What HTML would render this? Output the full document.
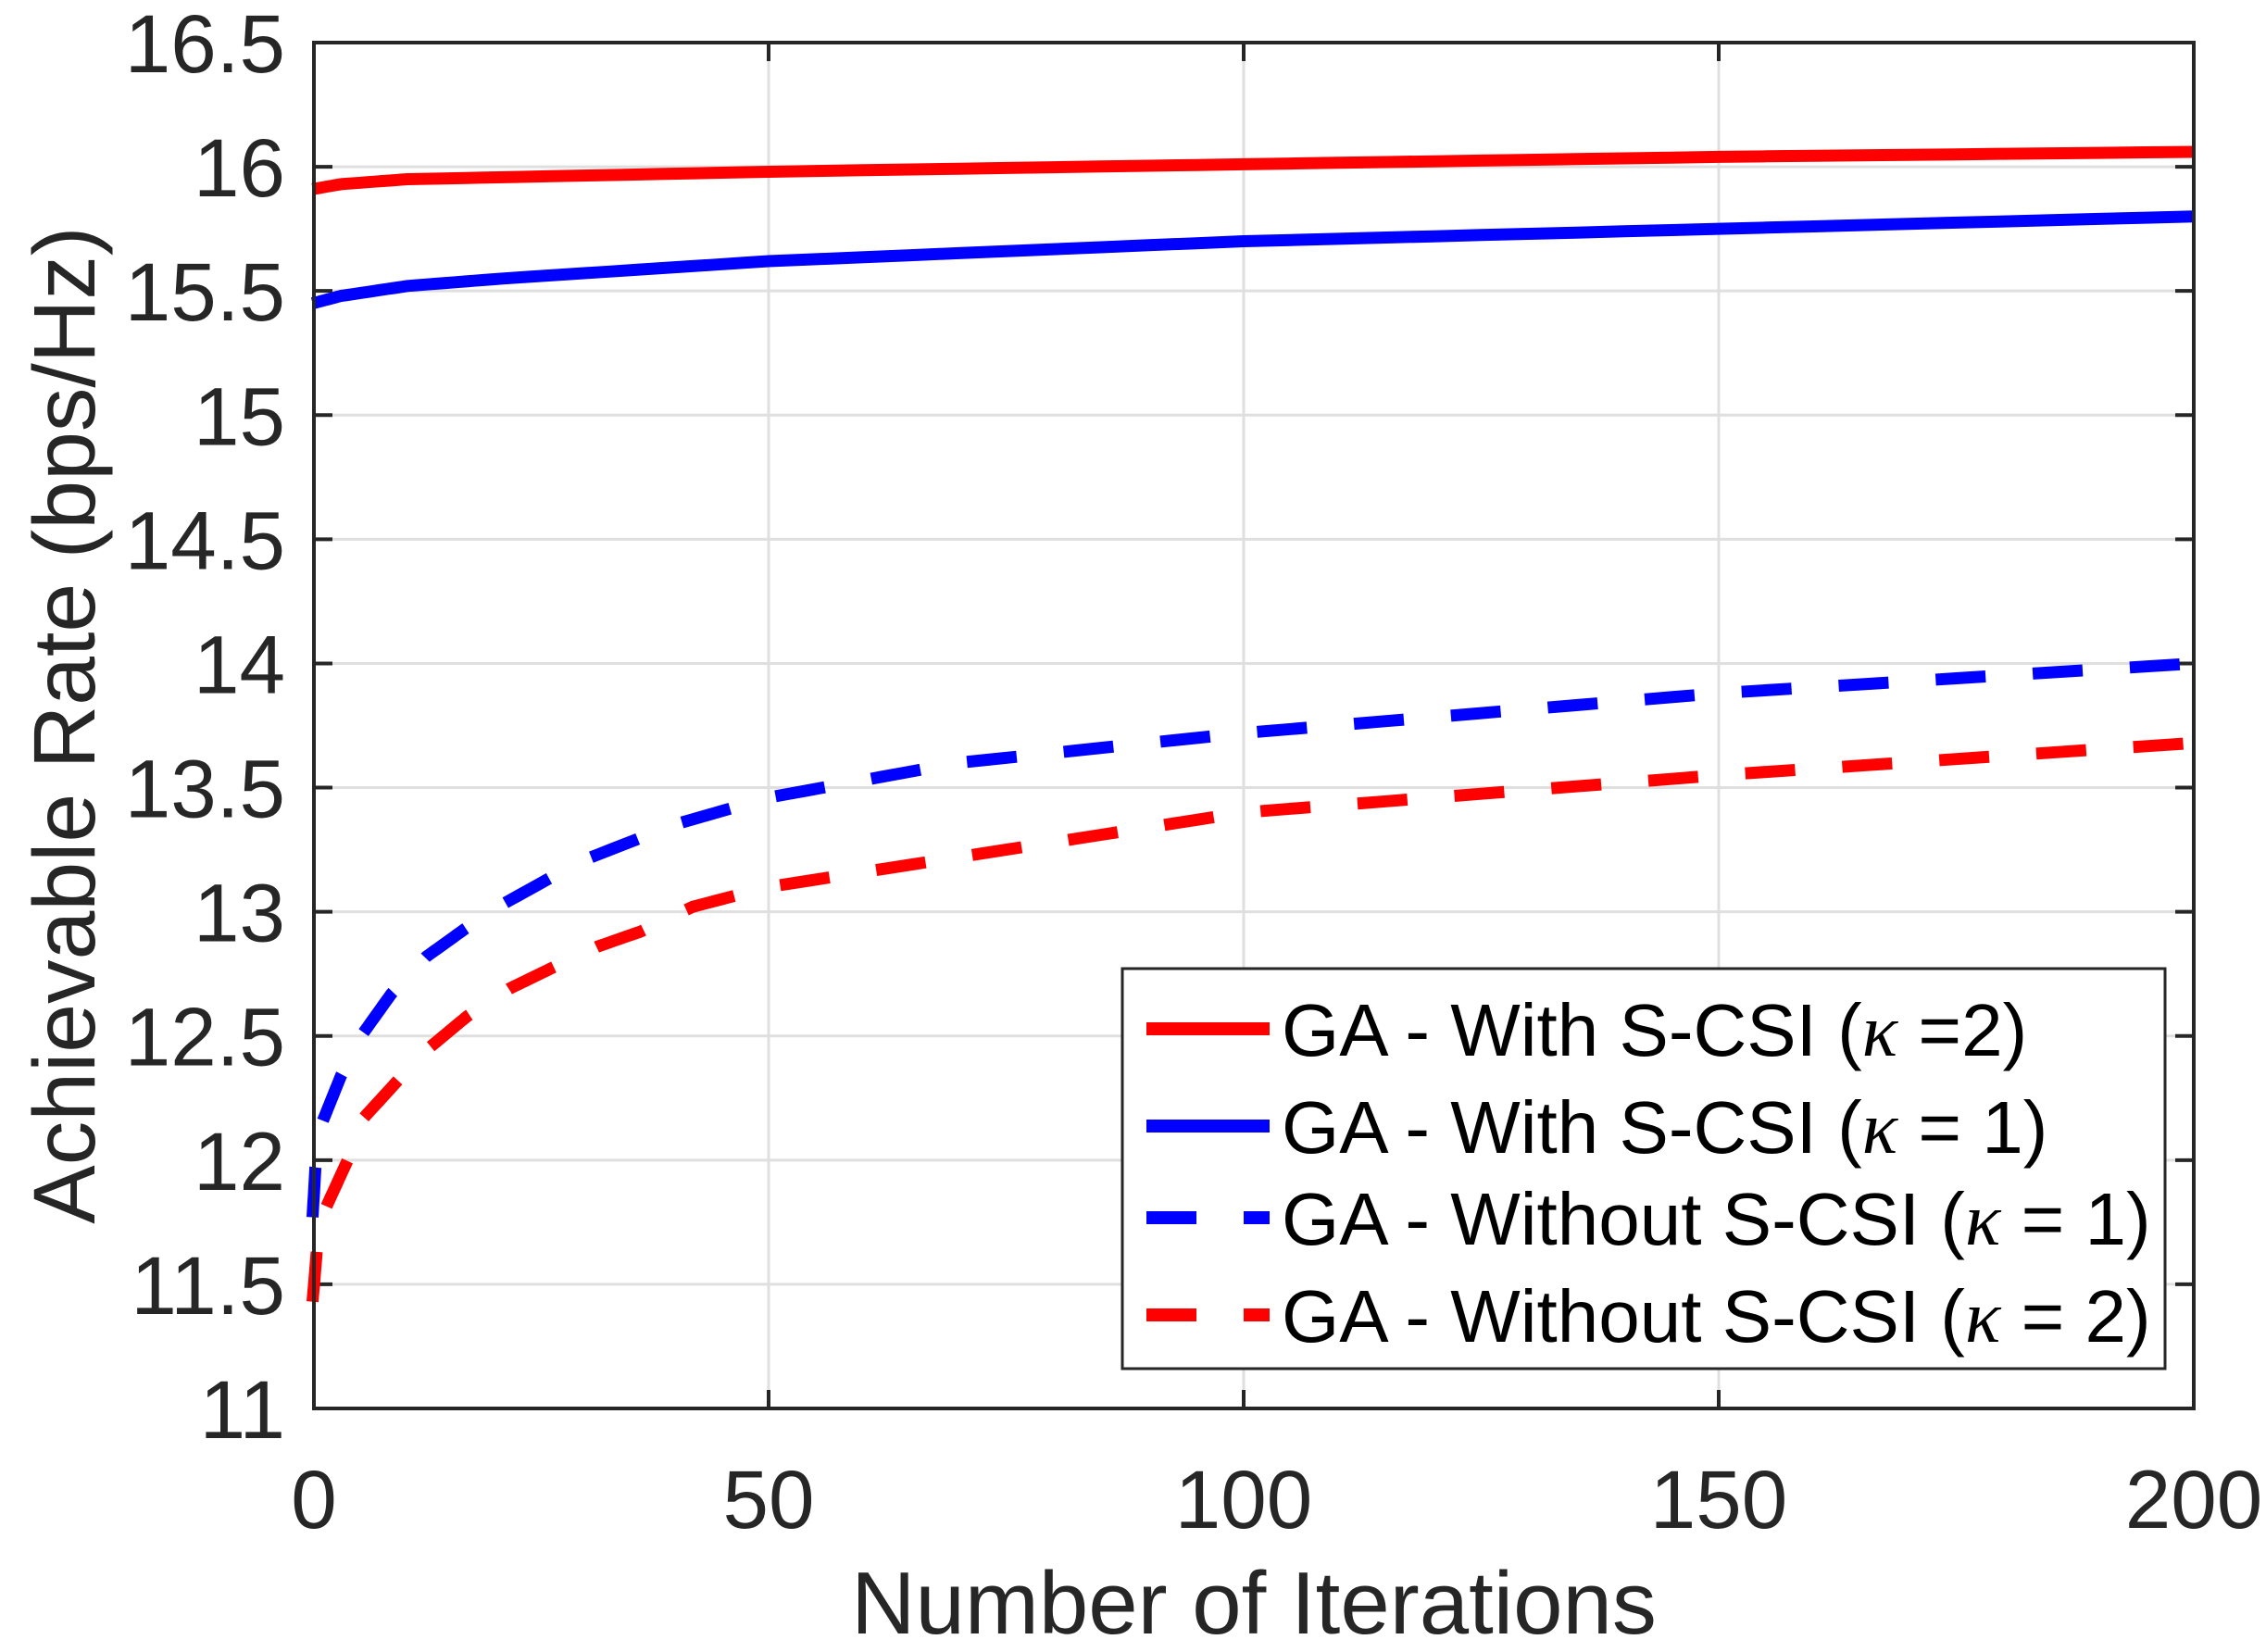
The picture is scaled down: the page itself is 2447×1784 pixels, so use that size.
<!DOCTYPE html>
<html><head><meta charset="utf-8"><style>
html,body{margin:0;padding:0;background:#fff}
svg{display:block}
text{font-family:"Liberation Sans",sans-serif;fill:#262626}
</style></head><body>
<svg id="s" width="2447" height="1784" xmlns="http://www.w3.org/2000/svg">
<rect width="2447" height="1784" fill="#fff"/>
<g id="grid" stroke="#dfdfdf" stroke-width="3"></g>
<g id="ticks" font-size="89"></g>
<g id="series" fill="none" stroke-width="13" stroke-linejoin="round"></g>
<rect x="339" y="46" width="2030" height="1475" fill="none" stroke="#262626" stroke-width="4"/>
<g>
<rect x="1212" y="1046" width="1126" height="432" fill="#fff" stroke="#262626" stroke-width="3"/>
<line x1="1238" y1="1111" x2="1371" y2="1111" stroke="#f00" stroke-width="14"/>
<line x1="1238" y1="1216" x2="1371" y2="1216" stroke="#00f" stroke-width="14"/>
<line x1="1238" y1="1315" x2="1371" y2="1315" stroke="#00f" stroke-width="14" stroke-dasharray="54 51"/>
<line x1="1238" y1="1420" x2="1371" y2="1420" stroke="#f00" stroke-width="14" stroke-dasharray="54 51"/>
<g font-size="80">
<text x="1384" y="1140" style="fill:#000">GA - With S-CSI (<tspan font-family="Liberation Serif" font-style="italic">κ</tspan> =2)</text>
<text x="1384" y="1245" style="fill:#000">GA - With S-CSI (<tspan font-family="Liberation Serif" font-style="italic">κ</tspan> = 1)</text>
<text x="1384" y="1344" style="fill:#000">GA - Without S-CSI (<tspan font-family="Liberation Serif" font-style="italic">κ</tspan> = 1)</text>
<text x="1384" y="1449" style="fill:#000">GA - Without S-CSI (<tspan font-family="Liberation Serif" font-style="italic">κ</tspan> = 2)</text>
</g></g>
<text x="1354" y="1764" font-size="96" text-anchor="middle">Number of Iterations</text>
<text transform="translate(102,783) rotate(-90)" font-size="95" text-anchor="middle">Achievable Rate (bps/Hz)</text>
</svg>
<script>
const NS="http://www.w3.org/2000/svg";
const X=v=>317+v*10.26, Y=v=>46+(16.5-v)*1475/5.5;
function el(p,t,a,txt){const e=document.createElementNS(NS,t);for(const k in a)e.setAttribute(k,a[k]);if(txt!==undefined)e.textContent=txt;document.getElementById(p).appendChild(e);}
for(let x=50;x<200;x+=50)el("grid","line",{x1:X(x),x2:X(x),y1:46,y2:1521});
for(let y=11.5;y<16.5;y+=0.5)el("grid","line",{x1:339,x2:2369,y1:Y(y),y2:Y(y)});
for(let x=0;x<=200;x+=50){const px=x==0?339:X(x);el("ticks","text",{x:px,y:1650,"text-anchor":"middle"},String(x));if(x>0){el("ticks","line",{x1:px,x2:px,y1:1521,y2:1501,stroke:"#262626","stroke-width":4});el("ticks","line",{x1:px,x2:px,y1:46,y2:66,stroke:"#262626","stroke-width":4});}}
for(let y=11;y<=16.5;y+=0.5){el("ticks","text",{x:308,y:Y(y)+32,"text-anchor":"end"},String(y));el("ticks","line",{x1:339,x2:359,y1:Y(y),y2:Y(y),stroke:"#262626","stroke-width":4});el("ticks","line",{x1:2369,x2:2349,y1:Y(y),y2:Y(y),stroke:"#262626","stroke-width":4});}
function interp(pts){const out=[];for(let i=0;i<pts.length-1;i++){const[a,b]=pts[i],[c,d]=pts[i+1];for(let t=0;t<1;t+=0.1)out.push([a+(c-a)*t,b+(d-b)*t]);}out.push(pts[pts.length-1]);return out;}
function line(pts,col,dash){const p=interp(pts).map(q=>X(q[0]).toFixed(1)+","+Y(q[1]).toFixed(1)).join(" ");const a={points:p,stroke:col};if(dash)a["stroke-dasharray"]="54 51";el("series","polyline",a);}
line([[2,15.91],[5,15.93],[12,15.95],[50,15.98],[100,16.01],[150,16.04],[200,16.06]],"#f00");
line([[2,15.45],[5,15.48],[12,15.52],[22,15.55],[50,15.62],[100,15.70],[150,15.75],[200,15.80]],"#00f");
line([[2,11.77],[2.3,11.97],[3,12.15],[5,12.34],[7.3,12.51],[10.3,12.67],[14,12.82],[18,12.93],[22,13.03],[30,13.2],[40,13.35],[50,13.46],[70,13.6],[100,13.72],[150,13.88],[200,14.0]],"#00f",1);
line([[2,11.43],[2.7,11.75],[5.7,12.0],[6.9,12.15],[11.2,12.33],[14.2,12.45],[18.3,12.58],[22.7,12.69],[27,12.77],[32,12.86],[36.5,12.92],[42,13.02],[50,13.1],[75,13.25],[100,13.4],[150,13.55],[200,13.68]],"#f00",1);
</script>
</body></html>
